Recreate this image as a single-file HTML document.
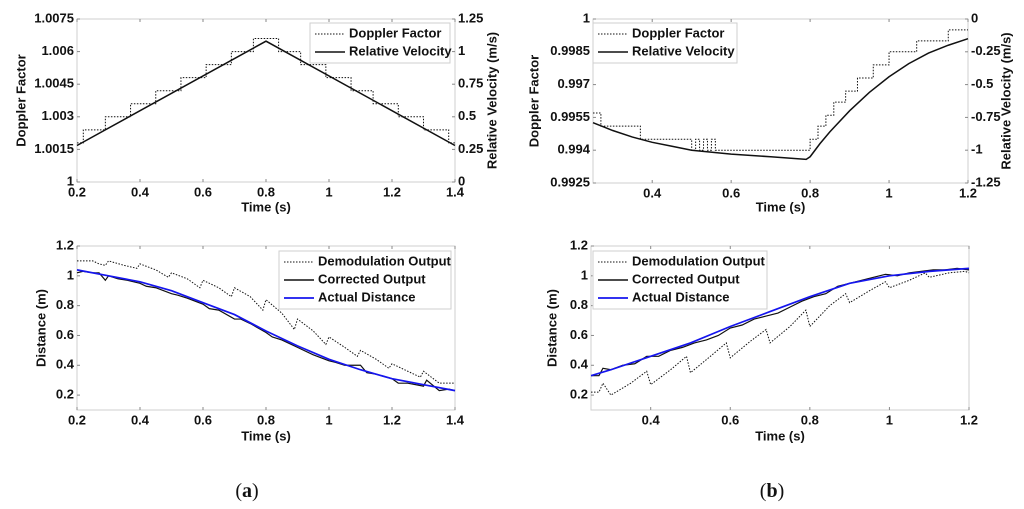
<!DOCTYPE html>
<html><head><meta charset="utf-8">
<style>
body{margin:0;background:#fff;}
svg text{font-family:"Liberation Sans",Arial,sans-serif;font-weight:bold;font-size:13px;fill:#111;}
</style></head>
<body>
<svg id="fig" width="1024" height="504" xmlns="http://www.w3.org/2000/svg"></svg>
<script>
// ---- Panel (a) top: Doppler factor steps and relative velocity ----
const aTopDopT = [0.2,0.22,0.29,0.37,0.45,0.53,0.61,0.69,0.76,0.84,0.91,0.99,1.07,1.14,1.22,1.30,1.38,1.4];
const aTopDopV = [1.0018,1.0024,1.0030,1.0036,1.0042,1.0048,1.0054,1.0060,1.0066,1.0060,1.0054,1.0048,1.0042,1.0036,1.0030,1.0024,1.0018,1.0018];
const aTopVelT = [0.2,0.8,1.4];
const aTopVelV = [0.28,1.08,0.28];
// ---- Panel (b) top ----
const bTopDopT = [0.25,0.27,0.37,0.50,0.51,0.52,0.53,0.54,0.55,0.56,0.80,0.82,0.84,0.86,0.89,0.92,0.96,1.00,1.07,1.15,1.2];
const bTopDopV = [0.9957,0.9951,0.9945,0.9940,0.9945,0.9940,0.9945,0.9940,0.9945,0.9940,0.9945,0.9951,0.9956,0.9962,0.9967,0.9973,0.9979,0.9985,0.9990,0.9995,0.9995];
const bTopVelT = [0.25,0.3,0.35,0.4,0.45,0.5,0.6,0.7,0.79,0.8,0.825,0.85,0.9,0.95,1.0,1.05,1.1,1.15,1.2];
const bTopVelV = [-0.79,-0.85,-0.9,-0.94,-0.97,-1.0,-1.03,-1.05,-1.07,-1.05,-0.95,-0.86,-0.7,-0.56,-0.44,-0.34,-0.26,-0.2,-0.15];
// ---- Panel (a) bottom ----
const aBotActT = [0.2,0.3,0.4,0.5,0.6,0.7,0.8,0.9,1.0,1.1,1.2,1.3,1.4];
const aBotActV = [1.04,1.0,0.96,0.9,0.82,0.74,0.63,0.53,0.44,0.37,0.31,0.27,0.23];
const aBotCorT = [0.2,0.22,0.25,0.27,0.29,0.3,0.33,0.36,0.4,0.42,0.45,0.5,0.52,0.55,0.6,0.62,0.65,0.7,0.72,0.75,0.8,0.82,0.85,0.9,0.92,0.95,1.0,1.02,1.05,1.1,1.12,1.15,1.2,1.22,1.25,1.3,1.31,1.35,1.38,1.4];
const aBotCorV = [1.02,1.03,1.02,1.02,0.97,1.0,0.98,0.97,0.95,0.93,0.92,0.88,0.87,0.85,0.81,0.78,0.77,0.71,0.71,0.68,0.62,0.59,0.57,0.52,0.5,0.47,0.43,0.42,0.4,0.4,0.35,0.34,0.31,0.28,0.28,0.26,0.3,0.23,0.24,0.23];
const aBotDemT = [0.2,0.25,0.27,0.29,0.3,0.35,0.39,0.4,0.45,0.49,0.5,0.55,0.59,0.6,0.65,0.69,0.7,0.75,0.79,0.8,0.85,0.89,0.9,0.95,0.99,1.0,1.05,1.09,1.1,1.15,1.19,1.2,1.25,1.29,1.3,1.35,1.4];
const aBotDemV = [1.1,1.1,1.08,1.07,1.1,1.07,1.05,1.08,1.04,0.99,1.02,0.98,0.92,0.97,0.92,0.86,0.92,0.86,0.77,0.84,0.75,0.64,0.71,0.63,0.54,0.59,0.52,0.46,0.5,0.44,0.38,0.41,0.36,0.32,0.36,0.28,0.28];
// ---- Panel (b) bottom ----
const bBotActT = [0.25,0.3,0.4,0.5,0.6,0.7,0.8,0.9,1.0,1.1,1.2];
const bBotActV = [0.33,0.37,0.46,0.55,0.66,0.76,0.86,0.95,1.0,1.03,1.05];
const bBotCorT = [0.25,0.27,0.28,0.3,0.33,0.36,0.39,0.42,0.45,0.48,0.51,0.54,0.57,0.6,0.63,0.66,0.69,0.72,0.75,0.78,0.81,0.84,0.87,0.9,0.93,0.96,0.99,1.02,1.05,1.08,1.11,1.14,1.17,1.2];
const bBotCorV = [0.33,0.33,0.38,0.37,0.4,0.41,0.46,0.46,0.5,0.52,0.55,0.57,0.6,0.65,0.67,0.71,0.73,0.75,0.79,0.83,0.86,0.88,0.93,0.95,0.97,0.99,1.01,1.0,1.02,1.03,1.04,1.04,1.05,1.04];
const bBotDemT = [0.25,0.27,0.28,0.3,0.35,0.39,0.4,0.45,0.49,0.5,0.55,0.59,0.6,0.65,0.69,0.7,0.75,0.79,0.8,0.85,0.89,0.9,0.95,0.99,1.0,1.05,1.09,1.1,1.15,1.19,1.2];
const bBotDemV = [0.22,0.22,0.28,0.2,0.28,0.36,0.27,0.37,0.46,0.35,0.46,0.55,0.45,0.56,0.64,0.55,0.66,0.77,0.66,0.8,0.88,0.82,0.9,0.96,0.92,0.97,1.02,0.99,1.02,1.03,1.02];

const aTimeTicks=[0.2,0.4,0.6,0.8,1,1.2,1.4];
const bTimeTicks=[0.4,0.6,0.8,1,1.2];
const aDopTicks=[1,1.0015,1.003,1.0045,1.006,1.0075];
const aDopLabels=["1","1.0015","1.003","1.0045","1.006","1.0075"];
const aVelTicks=[0,0.25,0.5,0.75,1,1.25];
const aVelLabels=["0","0.25","0.5","0.75","1","1.25"];
const bDopTicks=[0.9925,0.994,0.9955,0.997,0.9985,1];
const bDopLabels=["0.9925","0.994","0.9955","0.997","0.9985","1"];
const bVelTicks=[-1.25,-1,-0.75,-0.5,-0.25,0];
const bVelLabels=["-1.25","-1","-0.75","-0.5","-0.25","0"];
const distTicks=[0.2,0.4,0.6,0.8,1,1.2];
const distLabels=["0.2","0.4","0.6","0.8","1","1.2"];

const NS="http://www.w3.org/2000/svg";
const svg=document.getElementById('fig');
function mk(tag,attrs,parent){const e=document.createElementNS(NS,tag);for(const k in attrs)e.setAttribute(k,attrs[k]);(parent||svg).appendChild(e);return e;}
function txt(x,y,s,anchor,parent,rot){const t=mk('text',{x:x,y:y,'text-anchor':anchor||'middle','dominant-baseline':'middle'},parent);if(rot)t.setAttribute('transform','rotate(-90 '+x+' '+y+')');t.textContent=s;return t;}
function scale(d0,d1,r0,r1){return v=>r0+(v-d0)/(d1-d0)*(r1-r0);}

function axes(name,L,R,T,B){
  const g=mk('g',{});
  
  
  const r=mk('rect',{x:L,y:T,width:R-L,height:B-T,fill:'none',stroke:'#cfcfcf','stroke-width':1},g);
  
  
  return g;
}
function xTicks(g,sx,ticks,T,B){
  const gg=mk('g',{},g);
  
  
  ticks.forEach(v=>{const x=sx(v);mk('line',{x1:x,x2:x,y1:B,y2:B-3,stroke:'#888'},gg);mk('line',{x1:x,x2:x,y1:T,y2:T+3,stroke:'#888'},gg);txt(x,B+11,String(v),'middle',gg);});
}
function yTicks(g,sy,ticks,labels,x,side,name){
  const gg=mk('g',{},g);
  
  
  ticks.forEach((v,i)=>{const y=sy(v);mk('line',{x1:x,x2:x+(side==='left'?3:-3),y1:y,y2:y,stroke:'#888'},gg);
    txt(side==='left'?x-3:x+3,y,labels[i],side==='left'?'end':'start',gg);});
}
function path(g,sx,sy,T,V,opts,name,step){
  let d='';
  for(let i=0;i<T.length;i++){
    const x=sx(T[i]),y=sy(V[i]);
    if(i===0)d+='M'+x+' '+y;
    else if(step){d+=' H'+x+' V'+y;}
    else d+=' L'+x+' '+y;
  }
  const p=mk('path',Object.assign({d:d,fill:'none'},opts),g);
  
  
  return p;
}
function legend(g,x,y,w,entries,name){
  const lg=mk('g',{},g);
  
  
  const h=entries.length*18+4;
  mk('rect',{x:x,y:y,width:w,height:h,fill:'#fff',stroke:'#cfcfcf'},lg);
  entries.forEach((e,i)=>{const yy=y+11+i*18;
    const ln=mk('line',Object.assign({x1:x+5,x2:x+35,y1:yy,y2:yy},e.style),lg);
    
    
    const t=txt(x+39,yy,e.label,'start',lg);
    
    
  });
}
const DOT={stroke:'#111','stroke-width':1,'stroke-dasharray':'1.5,1.5'};
const SOL={stroke:'#111','stroke-width':1.5};
const BLU={stroke:'#1515ee','stroke-width':1.7};
const COR={stroke:'#111','stroke-width':1.2};

// Panel a top
(function(){const L=77,R=455,T=19,B=182;const g=axes('doppler-plot-a',L,R,T,B);
 const sx=scale(0.2,1.4,L,R),sy=scale(1,1.0075,B,T),sv=scale(0,1.25,B,T);
 xTicks(g,sx,aTimeTicks,T,B);yTicks(g,sy,aDopTicks,aDopLabels,L,'left','y-axis-left-ticks');yTicks(g,sv,aVelTicks,aVelLabels,R,'right','y-axis-right-ticks');
 path(g,sx,sy,aTopDopT,aTopDopV,DOT,'doppler-factor-line',true);path(g,sx,sv,aTopVelT,aTopVelV,SOL,'relative-velocity-line');
 legend(g,310,23,140,[{label:'Doppler Factor',style:DOT},{label:'Relative Velocity',style:SOL}],'legend-doppler-a');
 txt(22,(T+B)/2,'Doppler Factor','middle',g,true);
 txt(493,(T+B)/2,'Relative Velocity (m/s)','middle',g,true);
 txt((L+R)/2,208,'Time (s)','middle',g);})();
// Panel b top
(function(){const L=593,R=968,T=19,B=183;const g=axes('doppler-plot-b',L,R,T,B);
 const sx=scale(0.25,1.2,L,R),sy=scale(0.9925,1,B,T),sv=scale(-1.25,0,B,T);
 xTicks(g,sx,bTimeTicks,T,B);yTicks(g,sy,bDopTicks,bDopLabels,L,'left','y-axis-left-ticks');yTicks(g,sv,bVelTicks,bVelLabels,R,'right','y-axis-right-ticks');
 path(g,sx,sy,bTopDopT,bTopDopV,DOT,'doppler-factor-line',true);path(g,sx,sv,bTopVelT,bTopVelV,SOL,'relative-velocity-line');
 legend(g,593,23,144,[{label:'Doppler Factor',style:DOT},{label:'Relative Velocity',style:SOL}],'legend-doppler-b');
 txt(535,(T+B)/2,'Doppler Factor','middle',g,true);
 txt(1007,(T+B)/2,'Relative Velocity (m/s)','middle',g,true);
 txt((L+R)/2,208,'Time (s)','middle',g);})();
// Panel a bottom
(function(){const L=77,R=455,T=246,B=410;const g=axes('distance-plot-a',L,R,T,B);
 const sx=scale(0.2,1.4,L,R),sy=scale(0.1,1.2,B,T);
 xTicks(g,sx,aTimeTicks,T,B);yTicks(g,sy,distTicks,distLabels,L,'left','y-axis-ticks');
 path(g,sx,sy,aBotDemT,aBotDemV,DOT,'demodulation-output-line',false);path(g,sx,sy,aBotCorT,aBotCorV,COR,'corrected-output-line');path(g,sx,sy,aBotActT,aBotActV,BLU,'actual-distance-line');
 legend(g,279,251,172,[{label:'Demodulation Output',style:DOT},{label:'Corrected Output',style:SOL},{label:'Actual Distance',style:BLU}],'legend-distance-a');
 txt(42,(T+B)/2,'Distance (m)','middle',g,true);
 txt((L+R)/2,437,'Time (s)','middle',g);})();
// Panel b bottom
(function(){const L=591,R=969,T=246,B=410;const g=axes('distance-plot-b',L,R,T,B);
 const sx=scale(0.25,1.2,L,R),sy=scale(0.1,1.2,B,T);
 xTicks(g,sx,bTimeTicks,T,B);yTicks(g,sy,distTicks,distLabels,L,'left','y-axis-ticks');
 path(g,sx,sy,bBotDemT,bBotDemV,DOT,'demodulation-output-line',false);path(g,sx,sy,bBotCorT,bBotCorV,COR,'corrected-output-line');path(g,sx,sy,bBotActT,bBotActV,BLU,'actual-distance-line');
 legend(g,593,251,174,[{label:'Demodulation Output',style:DOT},{label:'Corrected Output',style:SOL},{label:'Actual Distance',style:BLU}],'legend-distance-b');
 txt(553,(T+B)/2,'Distance (m)','middle',g,true);
 txt((L+R)/2,437,'Time (s)','middle',g);})();
// captions
const ca=mk('text',{x:247,y:497,'text-anchor':'middle',style:'font-family:"Liberation Serif",serif;font-size:20px;font-weight:normal'});


ca.innerHTML='(<tspan font-weight="bold">a</tspan>)';
const cb=mk('text',{x:772,y:497,'text-anchor':'middle',style:'font-family:"Liberation Serif",serif;font-size:20px;font-weight:normal'});


cb.innerHTML='(<tspan font-weight="bold">b</tspan>)';
</script>
</body></html>
